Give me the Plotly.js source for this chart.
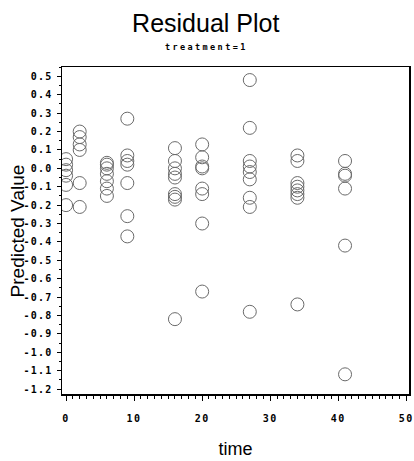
<!DOCTYPE html>
<html>
<head>
<meta charset="utf-8">
<script src="https://cdn.plot.ly/plotly-3.0.1.min.js"></script>
<style>
html, body { margin: 0; padding: 0; background: #fff; }
#chart { width: 414px; height: 461px; }
</style>
</head>
<body>
<div id="chart"></div>
<script>
// Time points (x) and predicted-value residuals
var times = [0, 2, 6, 9, 16, 20, 27, 34, 41];
var resT0  = [0.05, 0.02, -0.01, -0.04, -0.09, -0.20];
var resT2  = [0.20, 0.17, 0.13, 0.10, -0.08, -0.21];
var resT6  = [0.03, 0.02, 0.00, -0.03, -0.07, -0.11, -0.15];
var resT9  = [0.27, 0.07, 0.04, 0.02, -0.08, -0.26, -0.37];
var resT16 = [0.11, 0.04, 0.00, -0.03, -0.05, -0.14, -0.155, -0.17, -0.82];
var resT20 = [0.13, 0.06, 0.01, 0.00, -0.11, -0.14, -0.30, -0.67];
var resT27 = [0.48, 0.22, 0.04, 0.01, -0.02, -0.06, -0.16, -0.21, -0.78];
var resT34 = [0.07, 0.04, -0.08, -0.10, -0.12, -0.14, -0.16, -0.74];
var resT41 = [0.04, -0.03, -0.04, -0.11, -0.42, -1.12];

var yTickVals = [0.5, 0.4, 0.3, 0.2, 0.1, 0.0, -0.1, -0.2, -0.3, -0.4, -0.5, -0.6, -0.7, -0.8, -0.9, -1.0, -1.1, -1.2];
var yTickText = ["0.5", "0.4", "0.3", "0.2", "0.1", "0.0", "-0.1", "-0.2", "-0.3", "-0.4", "-0.5", "-0.6", "-0.7", "-0.8", "-0.9", "-1.0", "-1.1", "-1.2"];
var xTickVals = [0, 10, 20, 30, 40, 50];
var xTickText = ["0", "10", "20", "30", "40", "50"];

var groups = [resT0, resT2, resT6, resT9, resT16, resT20, resT27, resT34, resT41];
var xs = [], ys = [];
groups.forEach(function (g, i) {
  g.forEach(function (v) { xs.push(times[i]); ys.push(v); });
});

function spaced(t, s) { return '<span style="letter-spacing:' + s + 'px">' + t + '</span>'; }

var trace = {
  type: 'scatter', mode: 'markers', x: xs, y: ys,
  marker: { symbol: 'circle-open', size: 13, color: '#6a6a6a', line: { width: 1, color: '#6a6a6a' } },
  hoverinfo: 'x+y', showlegend: false
};

var tickFont = { family: 'DejaVu Sans Mono', size: 10, color: '#000', weight: 'bold' };

var layout = {
  width: 414, height: 461,
  margin: { l: 62, r: 5, t: 67, b: 67 },
  paper_bgcolor: '#fff', plot_bgcolor: '#fff',
  title: {
    text: 'Residual Plot',
    font: { family: 'Liberation Sans, Arial', size: 25, color: '#000' },
    xref: 'container', x: 0.497, xanchor: 'center',
    yref: 'container', y: 1 - 23 / 461, yanchor: 'middle'
  },
  annotations: [{
    text: spaced('treatment=1', 2.4),
    xref: 'paper', yref: 'paper', x: 0.415, y: 1.061,
    xanchor: 'center', yanchor: 'middle', showarrow: false,
    font: { family: 'DejaVu Sans Mono', size: 8.5, color: '#000', weight: 'bold' }
  }, {
    text: 'Predicted Value', textangle: -90,
    xref: 'paper', yref: 'paper', x: -0.127, y: 0.5,
    xanchor: 'center', yanchor: 'middle', showarrow: false,
    font: { family: 'Liberation Sans, Arial', size: 19, color: '#000' }
  }],
  xaxis: {
    range: [-0.6, 50.4], showgrid: false, zeroline: false,
    showline: true, linecolor: '#000', linewidth: 1.5, mirror: true,
    ticks: 'outside', ticklen: 5, tickcolor: '#000', tickwidth: 1,
    tickvals: xTickVals, ticktext: xTickText.map(function (t) { return spaced(t, 1.5); }),
    tickfont: tickFont, ticklabelstandoff: 9,
    minor: { dtick: 1, ticks: 'outside', ticklen: 3, tickcolor: '#000', tickwidth: 1, showgrid: false },
    title: { text: 'time', font: { family: 'Liberation Sans, Arial', size: 18, color: '#000' }, standoff: 20 }
  },
  yaxis: {
    range: [-1.227, 0.551], showgrid: false, zeroline: false,
    showline: true, linecolor: '#000', linewidth: 1.5, mirror: true,
    ticks: 'outside', ticklen: 4, tickcolor: '#000', tickwidth: 1,
    tickvals: yTickVals, ticktext: yTickText.map(function (t) { return spaced(t, 1.2); }),
    tickfont: tickFont, ticklabelstandoff: 2,
    minor: { dtick: 0.05, ticks: 'outside', ticklen: 2, tickcolor: '#000', tickwidth: 1, showgrid: false }
  }
};

Plotly.newPlot('chart', [trace], layout, { displayModeBar: false, staticPlot: true });
</script>
</body>
</html>
